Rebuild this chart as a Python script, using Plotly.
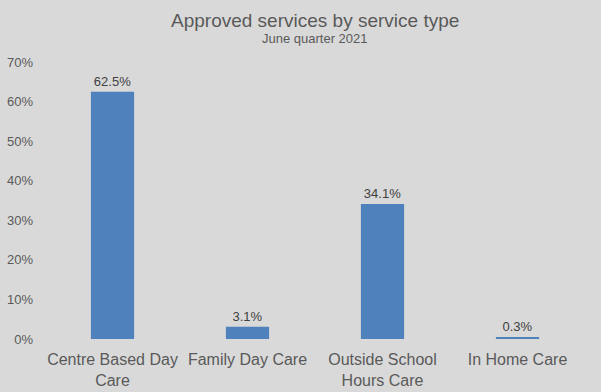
import plotly.graph_objects as go

categories = ["Centre Based Day<br>Care", "Family Day Care", "Outside School<br>Hours Care", "In Home Care"]
values = [62.5, 3.1, 34.1, 0.3]
labels = ["62.5%", "3.1%", "34.1%", "0.3%"]
y_ticks = [0, 10, 20, 30, 40, 50, 60, 70]
y_tick_text = ["0%", "10%", "20%", "30%", "40%", "50%", "60%", "70%"]

W, H = 601, 392
T, B, L, R = 62, 53, 45, 16
plot_h = H - T - B

fig = go.Figure(go.Bar(
    x=categories, y=values, text=labels, textposition="outside",
    textfont=dict(size=13, color="#404040"),
    marker=dict(color="#4f81bd", line=dict(width=0)),
    width=0.32, cliponaxis=False,
))

fig.update_layout(
    width=W, height=H,
    paper_bgcolor="#d9d9d9", plot_bgcolor="#d9d9d9",
    margin=dict(l=L, r=R, t=T, b=B, autoexpand=False),
    font=dict(family="Liberation Sans, Arial, sans-serif", color="#595959"),
    showlegend=False,
)
for txt, py, sz in [("Approved services by service type", 21, 19), ("June quarter 2021", 39, 13)]:
    fig.add_annotation(text=txt, x=0.5, y=(H - B - py) / plot_h, xref="paper", yref="paper",
                       showarrow=False, font=dict(size=sz, color="#595959"), yanchor="middle")

fig.update_yaxes(range=[0, 70], tickvals=y_ticks, ticktext=y_tick_text, showgrid=False,
                 zeroline=False, showline=False, tickfont=dict(size=13, color="#595959"), ticks="",
                 ticklabelstandoff=11, automargin=False)
fig.update_xaxes(showgrid=False, showline=False, ticks="", tickfont=dict(size=16, color="#595959"),
                 ticklabelstandoff=9, automargin=False)

fig.write_html("out.html", config={"displayModeBar": False},
               post_script="document.body.style.margin='0';document.body.style.background='#d9d9d9';")
